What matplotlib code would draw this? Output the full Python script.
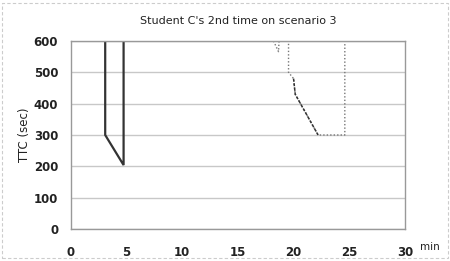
import matplotlib
matplotlib.use('Agg')
import matplotlib.pyplot as plt
from matplotlib.patches import Rectangle

# first attempt (solid) and second attempt (dotted), TTC in sec vs time in min
solid_x = [3.1, 3.1, 4.75, 4.75]
solid_y = [600, 300, 204, 600]
dot_x = [18.2, 18.65, 18.7, 19.55, 19.55, 20.0, 20.15, 22.2, 24.6, 24.6]
dot_y = [600, 566, 600, 600, 500, 480, 430, 300, 300, 600]

xticks = [0, 5, 10, 15, 20, 25, 30]
yticks = [0, 100, 200, 300, 400, 500, 600]

fig = plt.figure(figsize=(4.5, 2.61), dpi=100)
ax = fig.add_axes([0.157, 0.1226, 0.743, 0.7204])

ax.plot(solid_x, solid_y, color='#333333', lw=1.6, solid_joinstyle='miter')
ax.plot(dot_x, dot_y, color='#777777', lw=1.0, ls=(0, (1, 1.5)))
# the sloped stretch looks darker and denser in the scan
ax.plot(dot_x[5:8], dot_y[5:8], color='#333333', lw=1.1, ls=(0, (2, 1)))

ax.set_xlim(0, 30)
ax.set_ylim(0, 600)
ax.set_xticks(xticks)
ax.set_yticks(yticks)
ax.tick_params(length=0, labelsize=8.5, colors='#222222')
ax.tick_params(axis='x', pad=12)
ax.tick_params(axis='y', pad=9)
for t in ax.get_xticklabels() + ax.get_yticklabels():
    t.set_fontweight('bold')
ax.grid(axis='y', color='#c8c8c8', lw=1)
for s in ax.spines.values():
    s.set_color('#999999')
    s.set_linewidth(1)

ax.set_ylabel('TTC (sec)', fontsize=8.5, color='#222222', labelpad=2)
ax.set_title("Student C's 2nd time on scenario 3", fontsize=8, color='#222222', pad=12)
fig.text(430 / 450, 1 - 247 / 261, 'min', fontsize=7.5, color='#222222', ha='center', va='center')

fig.patches.append(Rectangle((0.005, 0.01), 0.99, 0.98, transform=fig.transFigure,
                             fill=False, ec='#cccccc', lw=0.8, ls=(0, (3, 2))))

fig.savefig('out.png', dpi=100)
